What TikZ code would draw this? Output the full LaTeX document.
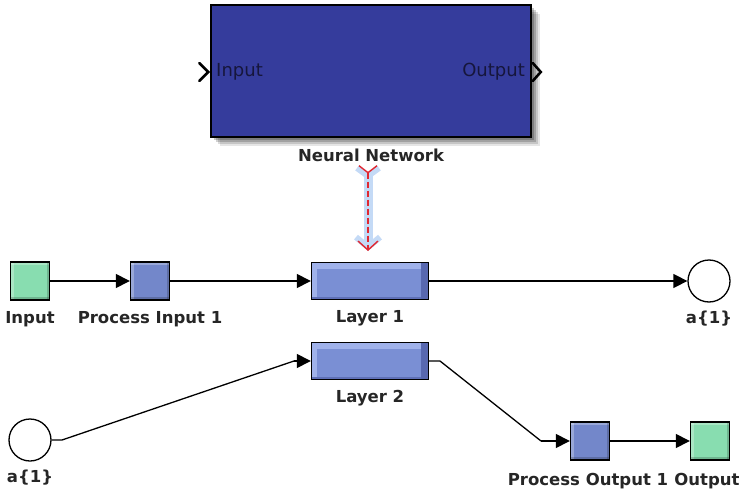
\documentclass[tikz,border=0pt]{standalone}
\usepackage{fontspec}
\setmainfont{DejaVu Sans}
\usetikzlibrary{arrows.meta}
\definecolor{nnblue}{RGB}{53,60,156}
\definecolor{sqblue}{RGB}{115,135,202}
\definecolor{lyblue}{RGB}{122,143,212}
\definecolor{lylight}{RGB}{160,178,234}
\definecolor{lydark}{RGB}{88,104,176}
\definecolor{sqgreen}{RGB}{136,221,176}
\definecolor{portink}{RGB}{22,22,60}
\definecolor{glow}{RGB}{196,218,246}
\definecolor{dashred}{RGB}{225,40,50}
\begin{document}
\begin{tikzpicture}[x=1pt,y=-1pt,
  lbl/.style={font=\fontsize{16.5}{19}\selectfont\bfseries, text=black!85, inner sep=0},
  portlbl/.style={font=\fontsize{18}{21}\selectfont, text=portink, inner sep=0},
  conn/.style={line width=1.4pt, -{Triangle[length=14pt,width=14pt]}},
  wire/.style={line width=1.3pt},
  sqbase/.style={draw=black, line width=1.4pt, minimum width=39pt, minimum height=38pt, inner sep=0},
  bevel/.style={path picture={
     \fill[white,opacity=0.28] (path picture bounding box.north west) rectangle ([yshift=-3pt]path picture bounding box.north east);
     \fill[white,opacity=0.28] (path picture bounding box.north west) rectangle ([xshift=3pt]path picture bounding box.south west);
     \fill[black,opacity=0.18] ([yshift=3pt]path picture bounding box.south west) rectangle (path picture bounding box.south east);
     \fill[black,opacity=0.18] ([xshift=-3pt]path picture bounding box.north east) rectangle (path picture bounding box.south east);}},
  bluesq/.style={sqbase, fill=sqblue, bevel},
  greensq/.style={sqbase, fill=sqgreen, bevel},
  layerbox/.style={draw=black, line width=1.4pt, fill=lyblue, minimum width=117pt, minimum height=37pt, inner sep=0,
   path picture={
     \fill[lylight] (path picture bounding box.north west) rectangle ([yshift=-6pt]path picture bounding box.north east);
     \fill[lylight] (path picture bounding box.north west) rectangle ([xshift=5pt]path picture bounding box.south west);
     \fill[lydark] ([xshift=-8pt]path picture bounding box.north east) rectangle (path picture bounding box.south east);
     \fill[lydark!80!lyblue] ([yshift=3pt]path picture bounding box.south west) rectangle ([xshift=-8pt]path picture bounding box.south east);}},
  portcirc/.style={circle, draw=black, line width=1.3pt, fill=white, minimum size=42pt, inner sep=0}
]
\useasboundingbox (0,0) rectangle (744,492);

% shadow of the Neural Network block
\foreach \d/\o in {9/0.10,7/0.14,5/0.18,3/0.22}{
  \fill[black,opacity=\o] (211+\d,5+\d) rectangle (531+\d,137+\d);
}
\node[draw=black, line width=1.5pt, fill=nnblue, minimum width=320pt, minimum height=132pt, inner sep=0] (nn) at (371,71) {};
\node[portlbl, anchor=west] (nnin) at (216,72) {Input};
\node[portlbl, anchor=east] (nnout) at (525,72) {Output};
\draw[line width=2.6pt, line cap=round, line join=miter] ([xshift=-11pt,yshift=-9pt]nn.west |- nnin.west) -- ([xshift=-2pt]nn.west |- nnin.west) -- ([xshift=-11pt,yshift=9pt]nn.west |- nnin.west);
\draw[line width=2.6pt, line cap=round, line join=miter] ([xshift=1pt,yshift=-9pt]nn.east |- nnout.east) -- ([xshift=9pt]nn.east |- nnout.east) -- ([xshift=1pt,yshift=9pt]nn.east |- nnout.east);
\node[lbl] (nnlbl) at (371,155) {Neural Network};

% top row
\node[greensq] (in) at (30,281) {};
\node[lbl] (inlbl) at (30,319) {Input};
\node[bluesq] (pi) at (150,281) {};
\node[lbl] (pilbl) at (150,319) {Process Input 1};
\node[layerbox] (l1) at (370,281) {};
\node[lbl] (l1lbl) at (370,318) {Layer 1};
\node[portcirc] (a1) at (709,281) {};
\node[lbl] (a1lbl) at (709,319) {a\{1\}};

% bottom row
\node[portcirc] (a2) at (30,440) {};
\node[lbl] (a2lbl) at (30,478) {a\{1\}};
\node[layerbox] (l2) at (370,361) {};
\node[lbl] (l2lbl) at (370,398) {Layer 2};
\node[bluesq] (po) at (590,441) {};
\node[lbl] (polbl) at (588,481) {Process Output 1};
\node[greensq] (out) at (710,441) {};
\node[lbl] (outlbl) at (707,481) {Output};

% dashed relation arrow
\coordinate (dtop) at (368,165);
\coordinate (dbot) at (368,251);
\draw[line width=9pt, glow, {Straight Barb[reversed,length=8pt,width=22pt,line width=6pt]}-{Straight Barb[length=10pt,width=24pt,line width=6pt]}] (dtop) -- (dbot);
\draw[line width=2.2pt, dashred, dash pattern=on 6pt off 3pt, {Straight Barb[reversed,length=7pt,width=18pt,line width=1.4pt]}-{Straight Barb[length=9pt,width=20pt,line width=1.4pt]}] (dtop) -- (dbot);

% connectors
\draw[conn] (in) -- (pi);
\draw[conn] (pi) -- (l1);
\draw[conn] (l1) -- (a1);
\coordinate (b1) at (62,440);
\coordinate (b2) at (294,361);
\draw[wire] (a2.east) -- (b1) -- (b2);
\draw[conn] (b2) -- (l2.west);
\coordinate (c1) at (440,361);
\coordinate (c2) at (541,441);
\draw[wire] (l2.east) -- (c1) -- (c2);
\draw[conn] (c2) -- (po.west);
\draw[conn] (po) -- (out);
\end{tikzpicture}
\end{document}
